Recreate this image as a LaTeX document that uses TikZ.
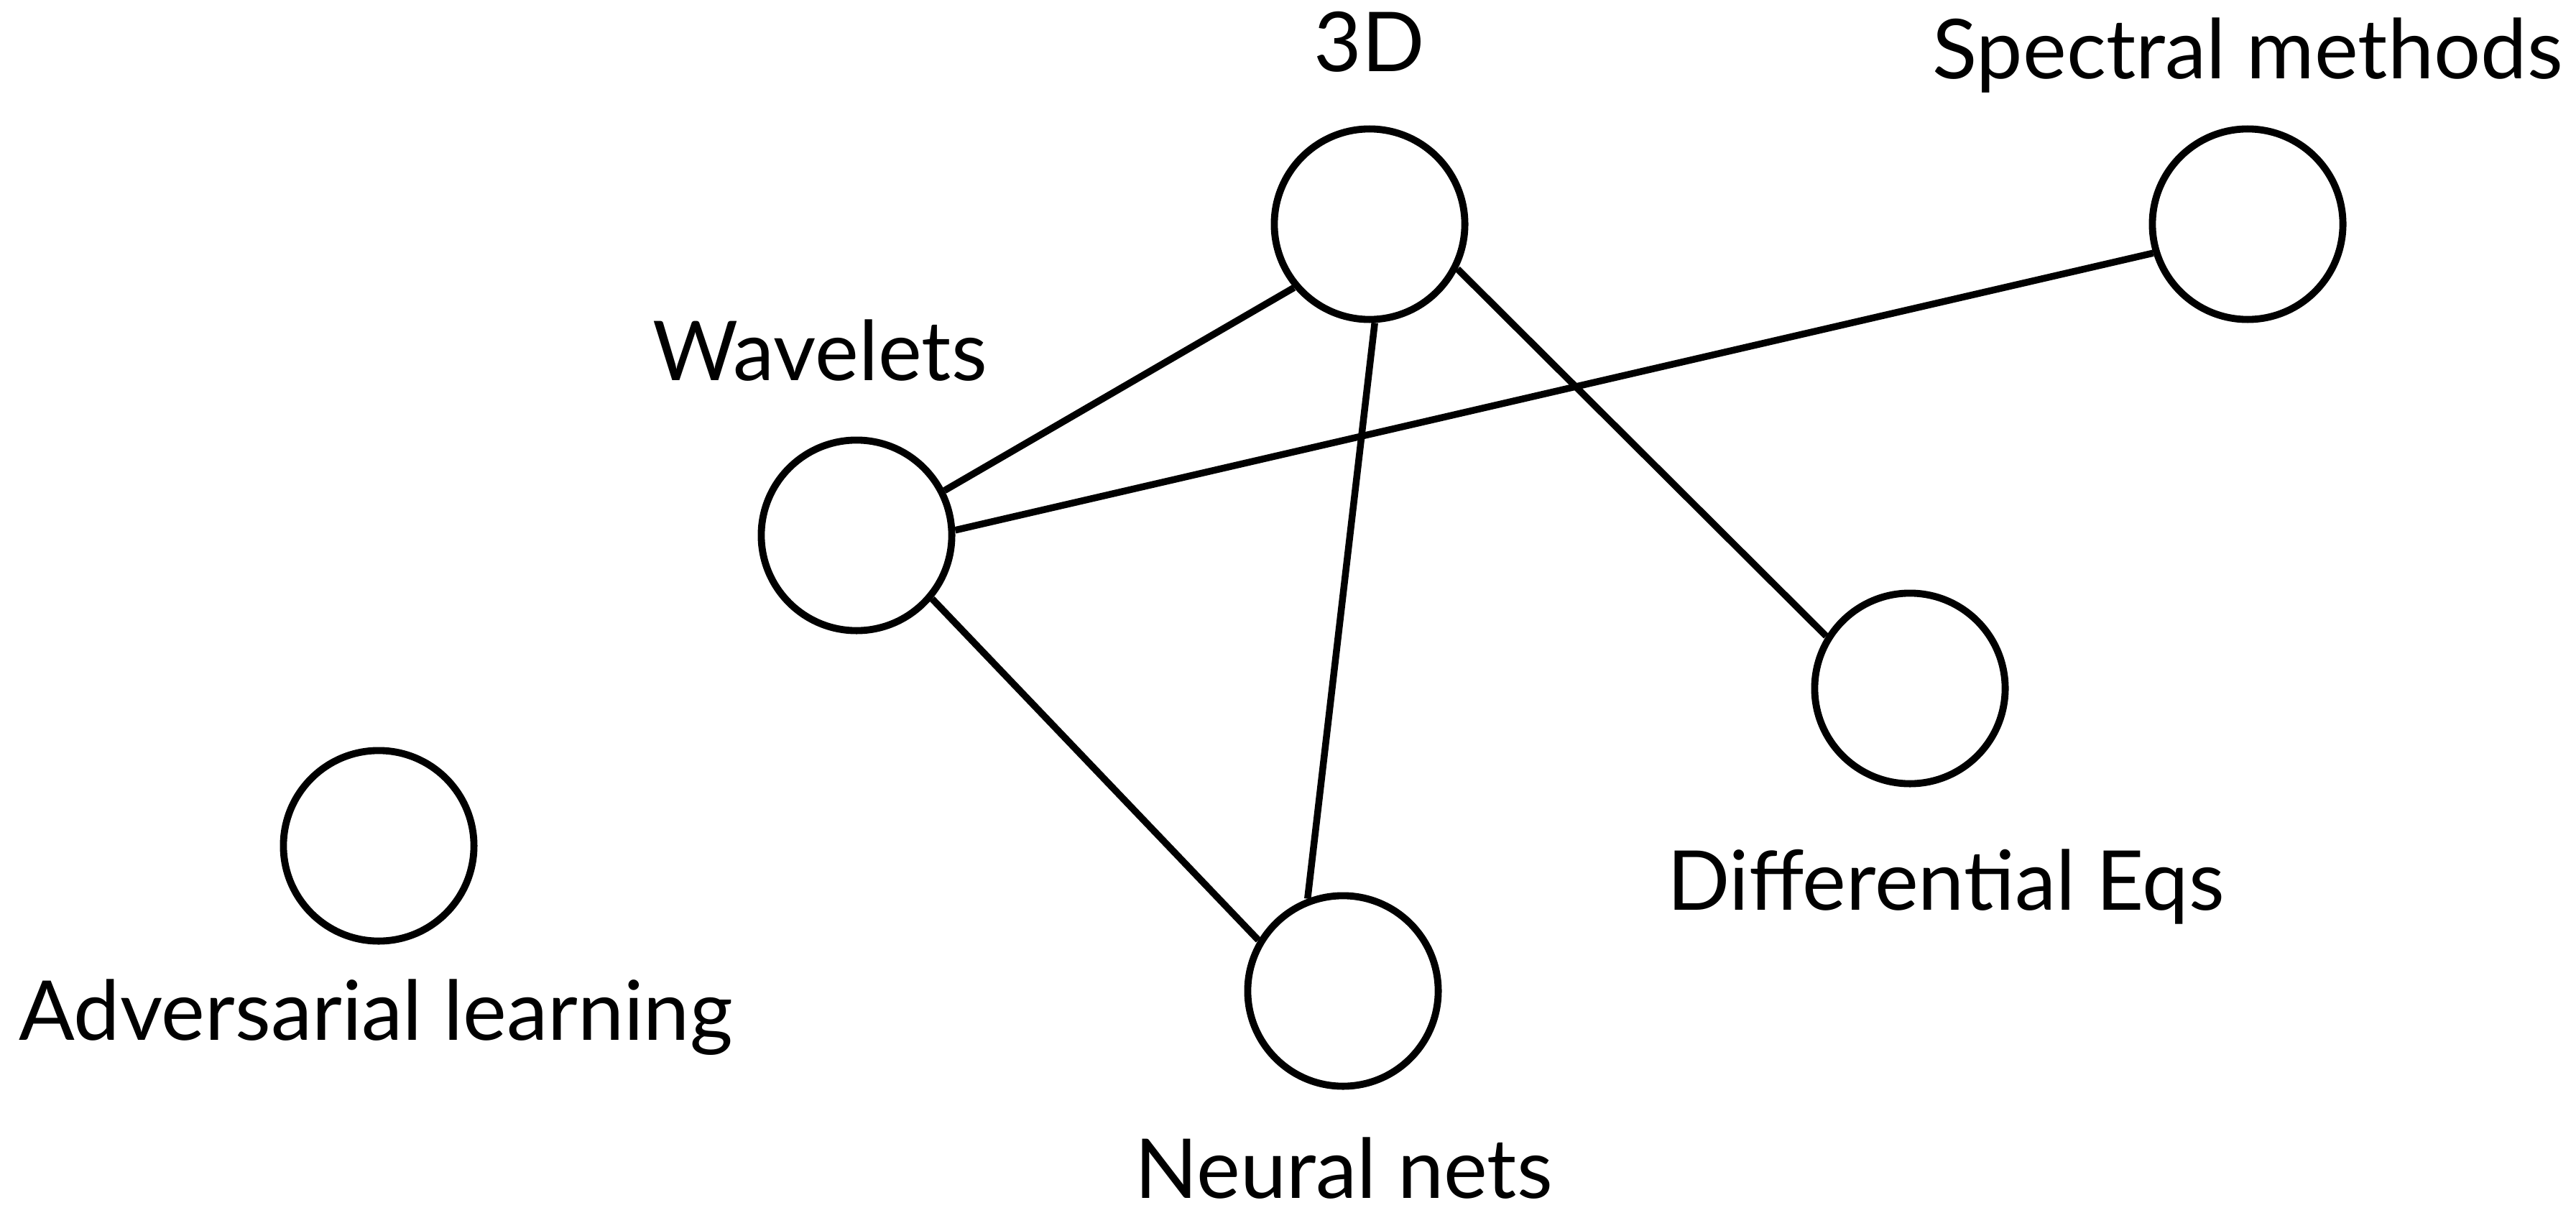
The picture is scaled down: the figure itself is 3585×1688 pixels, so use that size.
\documentclass[tikz,border=0pt]{standalone}
\usepackage{fontspec}
\setmainfont{Lato}
\begin{document}
\begin{tikzpicture}[x=0.01cm,y=-0.01cm,
  topic/.style={circle,draw=black,line width=2.8pt,minimum size=2.65cm,inner sep=0pt,fill=white},
  tag/.style={anchor=base,inner sep=0pt,font=\fontsize{32.7}{38}\selectfont},
  link/.style={draw=black,line width=2.7pt}]
  \useasboundingbox[fill=white] (0,0) rectangle (3585,1688);

  % topic circles
  \node[topic] (threeD)   at (1906,312)  {};
  \node[topic] (spectral) at (3128,312)  {};
  \node[topic] (wavelets) at (1192,745)  {};
  \node[topic] (diffeq)   at (2658,958)  {};
  \node[topic] (advers)   at (527,1177)  {};
  \node[topic] (neural)   at (1869,1379) {};

  % labels
  \node[tag] (l3d)   at (1906,100)  {3D};
  \node[tag] (lspec) at (3128,110)  {Spectral methods};
  \node[tag] (lwav)  at (1141,529)  {Wavelets};
  \node[tag] (ldiff) at (2708,1266) {Differential Eqs};
  \node[tag] (ladv)  at (523,1447)  {Adversarial learning};
  \node[tag] (lneu)  at (1870,1667) {Neural nets};

  % connections
  \draw[link] (threeD.220) -- (wavelets.27);
  \draw[link] (threeD.273) -- (neural.111);
  \draw[link] (threeD.-27) -- (diffeq.148.5);
  \draw[link] (wavelets.3) -- (spectral.197.4);
  \draw[link] (wavelets.-40.6) -- (neural.149);
\end{tikzpicture}
\end{document}
